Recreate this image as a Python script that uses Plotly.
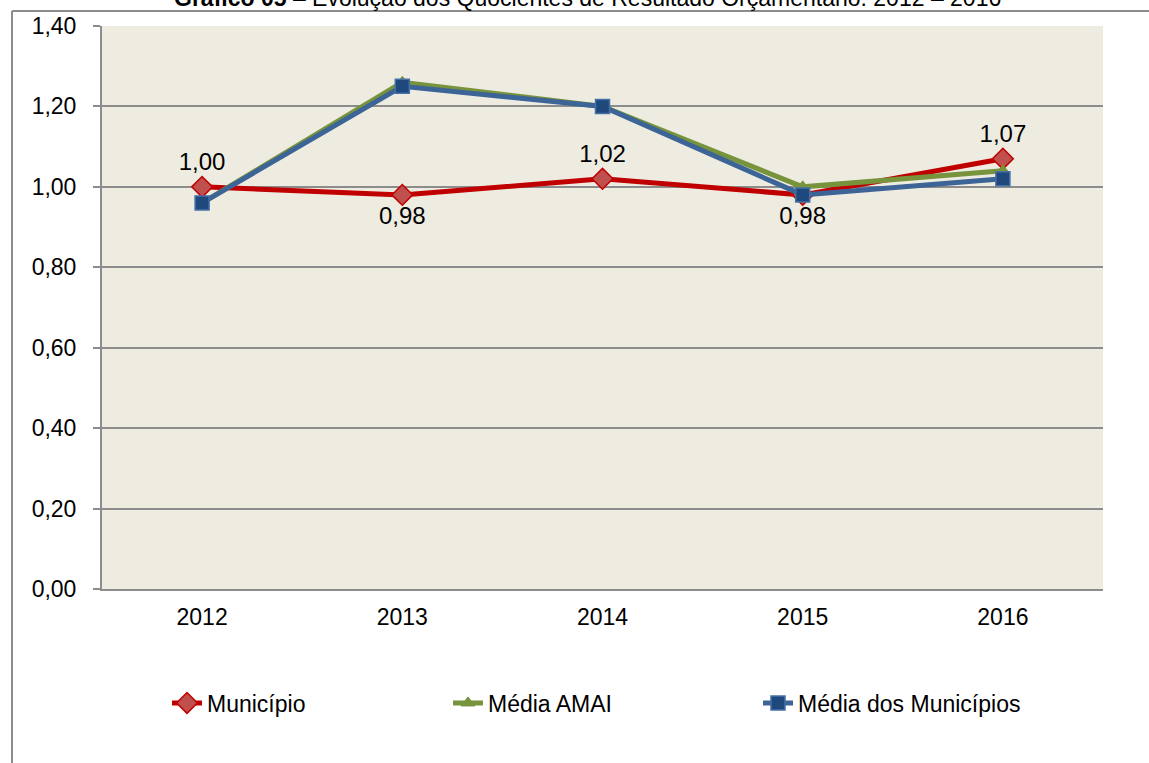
import plotly.graph_objects as go

years = ["2012", "2013", "2014", "2015", "2016"]
municipio = [1.00, 0.98, 1.02, 0.98, 1.07]
media_amai = [0.96, 1.26, 1.20, 1.00, 1.04]
media_municipios = [0.96, 1.25, 1.20, 0.98, 1.02]
label_positions = ["top center", "bottom center", "top center", "bottom center", "top center"]
y_ticks = [0.0, 0.2, 0.4, 0.6, 0.8, 1.0, 1.2, 1.4]

FONT = "Liberation Sans, Arial, sans-serif"
W, H = 1149, 763
ML, MR, MT, MB = 102, 46, 26, 174
PW, PH = W - ML - MR, H - MT - MB

def px_x(p):
    return (p - ML) / PW

def px_y(p):
    return (H - MB - p) / PH

fig = go.Figure()
fig.add_trace(go.Scatter(
    x=years, y=municipio, name="Município", mode="lines+markers+text",
    line=dict(color="#C00000", width=5),
    marker=dict(symbol="diamond", size=16, color="#C0504D", line=dict(color="#C00000", width=1.5)),
    text=municipio, texttemplate="%{y:.2f}", textposition=label_positions,
    textfont=dict(family=FONT, size=24, color="#000000"),
    legend="legend",
))
fig.add_trace(go.Scatter(
    x=years, y=media_amai, name="Média AMAI", mode="lines+markers",
    line=dict(color="#77933C", width=5),
    marker=dict(symbol="triangle-up", size=12, color="#77933C", line=dict(color="#77933C", width=1)),
    legend="legend2",
))
fig.add_trace(go.Scatter(
    x=years, y=media_municipios, name="Média dos Municípios", mode="lines+markers",
    line=dict(color="#3C6496", width=5),
    marker=dict(symbol="square", size=14, color="#1F497D", line=dict(color="#4470A8", width=1.5)),
    legend="legend3",
))

legend_common = dict(orientation="h", yanchor="middle", xanchor="left",
                     font=dict(family=FONT, size=23, color="#000000"),
                     bgcolor="rgba(0,0,0,0)", borderwidth=0)
ly = px_y(703)
fig.update_layout(
    legend=dict(x=px_x(209 - 42), y=ly, **legend_common),
    legend2=dict(x=px_x(490 - 42), y=ly, **legend_common),
    legend3=dict(x=px_x(800 - 42), y=ly, **legend_common),
)

fig.update_layout(
    width=W, height=H,
    margin=dict(l=ML, r=MR, t=MT, b=MB),
    paper_bgcolor="#FFFFFF",
    plot_bgcolor="#EEECE1",
    separators=", ",
    font=dict(family=FONT, size=23, color="#000000"),
    showlegend=True,
    xaxis=dict(
        type="category", range=[-0.5, 4.5],
        showgrid=False, showline=True, linecolor="#8C8C8C", linewidth=2,
        ticks="", tickfont=dict(family=FONT, size=23, color="#000000"),
        ticklabelstandoff=6,
    ),
    yaxis=dict(
        range=[0, 1.4], tickvals=y_ticks, tickformat=".2f",
        showgrid=True, gridcolor="#8C8C8C", gridwidth=2,
        showline=True, linecolor="#8C8C8C", linewidth=2,
        ticks="outside", ticklen=7, tickcolor="#8C8C8C", tickwidth=2,
        tickfont=dict(family=FONT, size=23, color="#000000"),
        ticklabelstandoff=12, zeroline=False,
    ),
)

# outer chart container border (left and top edges visible)
fig.add_shape(type="line", xref="paper", yref="paper",
              x0=px_x(12), x1=px_x(W + 10), y0=px_y(11), y1=px_y(11),
              line=dict(color="#8C8C8C", width=2))
fig.add_shape(type="line", xref="paper", yref="paper",
              x0=px_x(12), x1=px_x(12), y0=px_y(11), y1=px_y(H + 10),
              line=dict(color="#8C8C8C", width=2))

# title (partially cut off at top, as in the reference)
fig.add_annotation(
    xref="paper", yref="paper", x=px_x(587), y=px_y(13), xanchor="center", yanchor="bottom",
    text="<b>Gráfico 05</b> – Evolução dos Quocientes de Resultado Orçamentário: 2012 – 2016",
    showarrow=False, font=dict(family=FONT, size=23, color="#000000"),
)

fig.write_html("out.html", config={"displayModeBar": False},
               post_script="document.body.style.margin='0';")
